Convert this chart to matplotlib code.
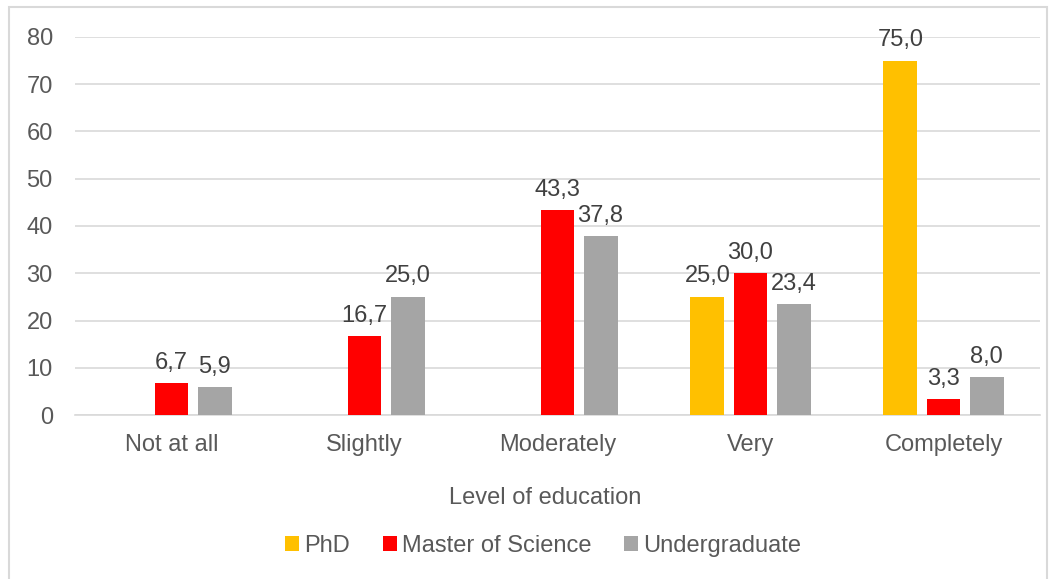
import matplotlib.pyplot as plt
import numpy as np
from matplotlib.patches import Rectangle

# --- Data ---
categories = ["Not at all", "Slightly", "Moderately", "Very", "Completely"]
series_names = ["PhD", "Master of Science", "Undergraduate"]
phd = [0, 0, 0, 25.0, 75.0]
msc = [6.7, 16.7, 43.3, 30.0, 3.3]
undergrad = [5.9, 25.0, 37.8, 23.4, 8.0]
colors = ["#FFC000", "#FF0000", "#A5A5A5"]

plt.rcParams["font.family"] = ["Liberation Sans", "DejaVu Sans"]
text_color = "#595959"
fs = 17

fig = plt.figure(figsize=(10.56, 5.79), dpi=100)
W, H = 1056, 579
ax = fig.add_axes([75 / W, 1 - 415 / H, (1040 - 75) / W, (415 - 37) / H])

x = np.arange(len(categories))
width = 0.176
offset = 0.223

for i, (name, vals, col) in enumerate(zip(series_names, [phd, msc, undergrad], colors)):
    pos = x + (i - 1) * offset
    ax.bar(pos, vals, width=width, color=col, label=name, zorder=3)
    for px, v in zip(pos, vals):
        if v == 0:
            continue
        ax.text(px, v + 2.0, "{:.1f}".format(v).replace(".", ","),
                ha="center", va="bottom", fontsize=fs, color="#404040")

ax.set_xlim(-0.5, len(categories) - 0.5)
ax.set_ylim(0, 80)
ax.set_yticks(range(0, 81, 10))
ax.set_xticks(x)
ax.set_xticklabels(categories)
ax.tick_params(axis="both", length=0, labelsize=fs, labelcolor=text_color)
ax.tick_params(axis="y", pad=16)
ax.tick_params(axis="x", pad=14)
ax.grid(axis="y", color="#D9D9D9", linewidth=1.2, zorder=0)
for s in ["top", "right", "left"]:
    ax.spines[s].set_visible(False)
ax.spines["bottom"].set_color("#D9D9D9")
ax.spines["bottom"].set_linewidth(1.2)

fig.text(545 / W, 1 - 498 / H, "Level of education", ha="center", va="center",
         fontsize=fs, color=text_color)

leg = fig.legend(loc="center", bbox_to_anchor=(543 / W, 1 - 546 / H), ncol=3,
                 frameon=False, fontsize=fs, handlelength=0.6, handleheight=0.6,
                 handletextpad=0.2, columnspacing=1.4)
for t in leg.get_texts():
    t.set_color(text_color)

# chart border
fig.patches.append(Rectangle((9 / W, -0.01), (1047 - 9) / W, 1 - 7 / H + 0.01,
                             transform=fig.transFigure, fill=False,
                             edgecolor="#D9D9D9", linewidth=1.5))

fig.savefig("out.png", dpi=100)
